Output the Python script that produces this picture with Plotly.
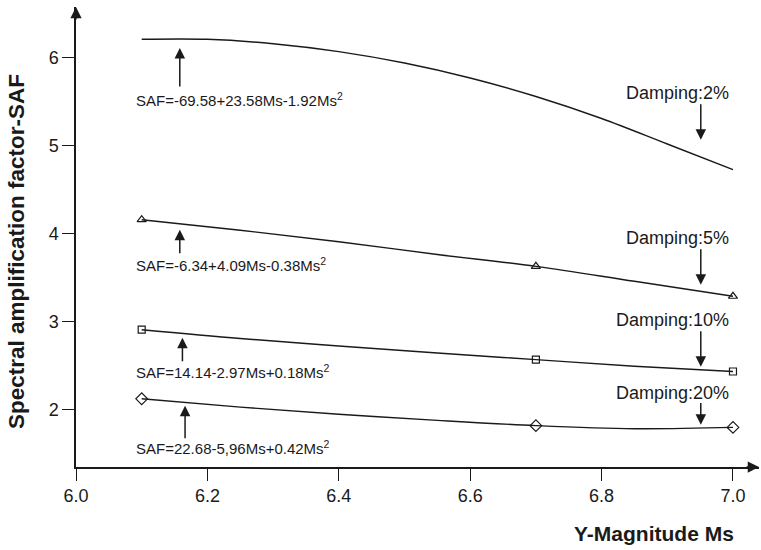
import plotly.graph_objects as go

# Data
ms_points = [6.1, 6.7, 7.0]
saf_5 = [4.16, 3.63, 3.29]
saf_10 = [2.91, 2.57, 2.435]
saf_20 = [2.125, 1.82, 1.80]

# fitted curves read along x
curve_x2 = [6.1, 6.2, 6.3, 6.4, 6.5, 6.6, 6.7, 6.8, 6.9, 7.0]
curve_y2 = [6.21, 6.21, 6.16, 6.07, 5.94, 5.77, 5.56, 5.31, 5.02, 4.73]
curve_x = [6.1, 6.25, 6.4, 6.55, 6.7, 6.85, 7.0]
curve_y5 = [4.16, 4.04, 3.91, 3.765, 3.63, 3.46, 3.29]
curve_y10 = [2.91, 2.81, 2.725, 2.645, 2.57, 2.495, 2.435]
curve_y20 = [2.125, 2.03, 1.95, 1.88, 1.82, 1.785, 1.80]

x_ticks = [6.0, 6.2, 6.4, 6.6, 6.8, 7.0]
x_tick_text = ["6.0", "6.2", "6.4", "6.6", "6.8", "7.0"]
y_ticks = [2, 3, 4, 5, 6]

eq_labels = [
    "SAF=-69.58+23.58Ms-1.92Ms<sup>2</sup>",
    "SAF=-6.34+4.09Ms-0.38Ms<sup>2</sup>",
    "SAF=14.14-2.97Ms+0.18Ms<sup>2</sup>",
    "SAF=22.68-5,96Ms+0.42Ms<sup>2</sup>",
]
damp_labels = ["Damping:2%", "Damping:5%", "Damping:10%", "Damping:20%"]

FONT = "Liberation Sans, Arial, sans-serif"
BLACK = "#1a1a1a"

fig = go.Figure()
for cx, cy in [(curve_x2, curve_y2), (curve_x, curve_y5), (curve_x, curve_y10), (curve_x, curve_y20)]:
    fig.add_trace(go.Scatter(x=cx, y=cy, mode="lines", line=dict(color=BLACK, width=1.4, shape="spline"),
                             showlegend=False, hoverinfo="skip"))
for ys, sym, sz in [(saf_5, "triangle-up-open", 8), (saf_10, "square-open", 7), (saf_20, "diamond-open", 9)]:
    fig.add_trace(go.Scatter(x=ms_points, y=ys, mode="markers",
                             marker=dict(symbol=sym, size=sz, color=BLACK, line=dict(width=1.2, color=BLACK)),
                             showlegend=False))

# equation labels with arrows
eq_pos = [  # (label y, arrow x, arrow tip y, arrow tail y)
    (5.523, 6.158, 6.11, 5.656),
    (3.648, 6.158, 4.045, 3.761),
    (2.435, 6.162, 2.818, 2.534),
    (1.568, 6.166, 2.045, 1.659),
]
for lab, (ly, axx, tip, tail) in zip(eq_labels, eq_pos):
    fig.add_annotation(x=6.088, y=ly, text=lab, showarrow=False, xanchor="left", yanchor="middle",
                       font=dict(family=FONT, size=15, color=BLACK))
    fig.add_annotation(x=axx, y=tip, ax=axx, ay=tail, axref="x", ayref="y", text="", showarrow=True,
                       arrowhead=2, arrowsize=1.4, arrowwidth=1.5, arrowcolor=BLACK, standoff=0)

damp_pos = [  # (label y, arrow top y, arrow tip y)
    (5.60, 5.49, 5.068),
    (3.955, 3.84, 3.42),
    (3.015, 2.909, 2.49),
    (2.193, 2.094, 1.83),
]
for lab, (ly, top, tip) in zip(damp_labels, damp_pos):
    fig.add_annotation(x=6.997, y=ly, text=lab, showarrow=False, xanchor="right", yanchor="middle",
                       font=dict(family=FONT, size=18, color=BLACK))
    fig.add_annotation(x=6.951, y=tip, ax=6.951, ay=top, axref="x", ayref="y", text="", showarrow=True,
                       arrowhead=2, arrowsize=1.4, arrowwidth=1.5, arrowcolor=BLACK, standoff=0)

# axis arrowheads
fig.add_annotation(x=0, y=1, xref="paper", yref="paper", ax=0, ay=14, text="", showarrow=True,
                   arrowhead=2, arrowsize=1.5, arrowwidth=1.5, arrowcolor=BLACK, standoff=0)
fig.add_annotation(x=1, y=0, xref="paper", yref="paper", ax=-14, ay=0, text="", showarrow=True,
                   arrowhead=2, arrowsize=1.5, arrowwidth=1.5, arrowcolor=BLACK, standoff=0)

# axis titles
fig.add_annotation(x=-0.087, y=3.80, xref="paper", yref="y", text="<b>Spectral amplification factor-SAF</b>",
                   showarrow=False, textangle=-90, xanchor="center", yanchor="middle",
                   font=dict(family=FONT, size=22.5, color=BLACK))
fig.add_annotation(x=7.005, y=0, xref="x", yref="paper", yshift=-66, text="<b>Y-Magnitude Ms</b>",
                   showarrow=False, xanchor="right", yanchor="middle",
                   font=dict(family=FONT, size=21, color=BLACK))

fig.update_layout(
    width=761, height=550,
    margin=dict(l=76, r=2, t=7, b=83),
    paper_bgcolor="white", plot_bgcolor="white",
    font=dict(family=FONT, size=18, color=BLACK),
    xaxis=dict(range=[6.0, 7.0396], tickvals=x_ticks, ticktext=x_tick_text, ticks="outside", ticklen=12,
               tickwidth=1.3, tickcolor=BLACK, showline=True, linecolor=BLACK, linewidth=1.5,
               showgrid=False, zeroline=False, tickfont=dict(size=18)),
    yaxis=dict(range=[1.35, 6.577], tickvals=y_ticks, ticks="outside", ticklen=12,
               tickwidth=1.3, tickcolor=BLACK, showline=True, linecolor=BLACK, linewidth=1.5,
               showgrid=False, zeroline=False, tickfont=dict(size=18)),
)

fig.write_html("out.html")
